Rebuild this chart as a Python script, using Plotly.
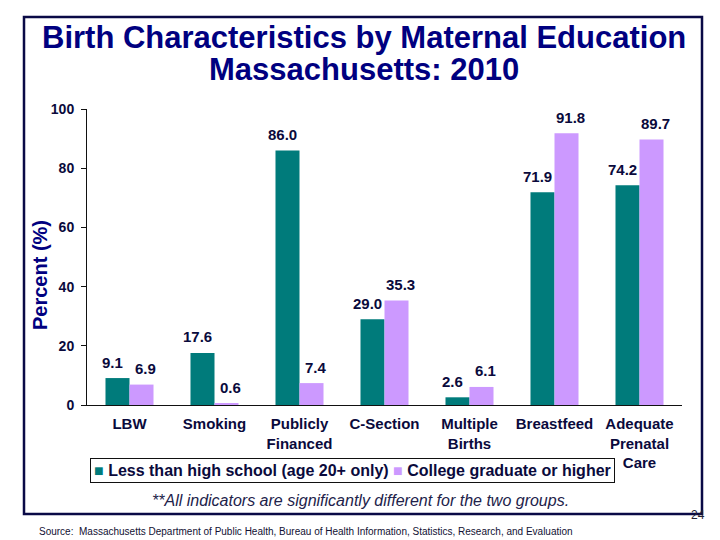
import plotly.graph_objects as go

categories = ["LBW", "Smoking", "Publicly<br>Financed", "C-Section",
              "Multiple<br>Births", "Breastfeed", "Adequate<br>Prenatal<br>Care"]
less_than_hs = [9.1, 17.6, 86.0, 29.0, 2.6, 71.9, 74.2]
college_grad = [6.9, 0.6, 7.4, 35.3, 6.1, 91.8, 89.7]
y_ticks = [0, 20, 40, 60, 80, 100]
series_names = ["Less than high school (age 20+ only)", "College graduate or higher"]
title_lines = ["Birth Characteristics by Maternal Education", "Massachusetts: 2010"]

TEAL = "#007B7B"
LAV = "#CC99FF"
NAVY = "#000080"
TXT = "#0A0A3C"

W, H = 720, 540
L, R, T, B = 87, 38, 109, 135
PW, PH = W - L - R, H - T - B

def px_x(x):
    return (x - L) / PW

def px_y(y):
    return (H - B - y) / PH

fig = go.Figure()
fig.add_trace(go.Bar(x=categories, y=less_than_hs, name=series_names[0],
                     marker=dict(color=TEAL, line=dict(width=0))))
fig.add_trace(go.Bar(x=categories, y=college_grad, name=series_names[1],
                     marker=dict(color=LAV, line=dict(width=0))))

# data labels
for vals, xs in ((less_than_hs, -17), (college_grad, 16)):
    for c, v in zip(categories, vals):
        fig.add_annotation(x=c, y=v, text=f"<b>{v:.1f}</b>", showarrow=False,
                           xshift=xs, yshift=16,
                           font=dict(family="Arial", size=15, color=TXT))

for line, ypx in zip(title_lines, (37, 70)):
    fig.add_annotation(text=f"<b>{line}</b>",
                       xref="paper", yref="paper", x=px_x(364), y=px_y(ypx),
                       showarrow=False, xanchor="center", yanchor="middle",
                       font=dict(family="Arial", size=31, color=NAVY))

fig.add_annotation(text="<b>Percent (%)</b>", xref="paper", yref="paper",
                   x=px_x(40), y=px_y(275), textangle=-90, showarrow=False,
                   xanchor="center", yanchor="middle",
                   font=dict(family="Arial", size=20, color=NAVY))

# legend box
legend_text = (f"<span style='color:{TEAL}'>■</span> <b>{series_names[0]}</b> "
               f"<span style='color:{LAV}'>■</span> <b>{series_names[1]}</b>")
fig.add_annotation(text=legend_text, xref="paper", yref="paper",
                   x=px_x(90), y=px_y(458), xanchor="left", yanchor="top",
                   showarrow=False, bordercolor="#111111", borderwidth=1, borderpad=3,
                   bgcolor="white",
                   font=dict(family="Arial", size=16, color=TXT))

fig.add_annotation(text="<i>**All indicators are significantly different for the two groups.</i>",
                   xref="paper", yref="paper", x=px_x(360), y=px_y(500), showarrow=False,
                   xanchor="center", yanchor="middle",
                   font=dict(family="Arial", size=16, color="#22224A"))

fig.add_annotation(text="Source:  Massachusetts Department of Public Health, Bureau of Health Information, Statistics, Research, and Evaluation",
                   xref="paper", yref="paper", x=px_x(37), y=px_y(531), showarrow=False,
                   xanchor="left", yanchor="middle",
                   font=dict(family="Arial", size=10, color="#111133"))

fig.add_annotation(text="24", xref="paper", yref="paper", x=px_x(698), y=px_y(515),
                   showarrow=False, xanchor="center", yanchor="middle",
                   font=dict(family="Arial", size=12, color="#222233"))

# slide frame
fig.add_shape(type="rect", xref="paper", yref="paper",
              x0=px_x(24), x1=px_x(702), y0=px_y(514), y1=px_y(17),
              line=dict(color="#0A0A46", width=2.5), layer="below")

fig.update_layout(
    width=W, height=H,
    margin=dict(l=L, r=R, t=T, b=B, pad=0),
    paper_bgcolor="white", plot_bgcolor="white",
    barmode="group", bargap=0.435, bargroupgap=0,
    showlegend=False,
    xaxis=dict(showline=True, linecolor="#111111", linewidth=1, ticks="",
               showgrid=False, zeroline=False, ticklabelstandoff=5,
               tickfont=dict(family="Arial", size=15, color=TXT, weight="bold")),
    yaxis=dict(range=[0, 100], tickvals=y_ticks, showline=True, linecolor="#111111",
               linewidth=1, ticks="outside", ticklen=5, tickcolor="#111111",
               showgrid=False, zeroline=False, ticklabelstandoff=4,
               tickfont=dict(family="Arial", size=14, color=TXT, weight="bold")),
)

fig.write_html("out.html")
